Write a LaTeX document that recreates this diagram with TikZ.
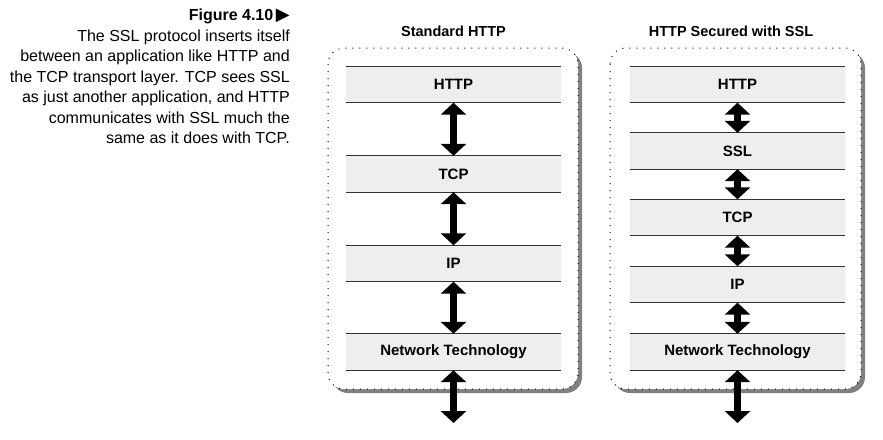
\documentclass[tikz,border=0pt]{standalone}
\usepackage{fontspec}
\setmainfont{Liberation Sans}
\newfontfamily\symfont{DejaVu Sans}
\usetikzlibrary{arrows.meta}
\definecolor{layerfill}{HTML}{EEEEEE}
\definecolor{shadowgray}{HTML}{808080}
\begin{document}
\begin{tikzpicture}[x=1pt,y=-1pt,
  layer/.style={minimum width=215pt, minimum height=36pt, inner sep=0pt, fill=layerfill,
    font=\bfseries\fontsize{15}{16}\selectfont},
  rule/.style={line width=1.2pt, black!80},
  link/.style={line width=7pt, {Triangle[width=25pt,length=12pt]}-{Triangle[width=25pt,length=12pt]}},
  frame/.style={draw=black, fill=white, rounded corners=16pt, line width=1pt, dash pattern=on 1pt off 6pt},
  shadow/.style={fill=shadowgray, rounded corners=16pt},
  title/.style={font=\bfseries\fontsize{14.5}{16}\selectfont},
  caption/.style={align=right, anchor=north east, inner sep=0pt, font=\fontsize{16}{20.5}\selectfont}]
\useasboundingbox (0,0) rectangle (883,439);

% caption
\node[caption] (cap) at (290,9) {{\bfseries Figure 4.10\,{\symfont\fontsize{18}{16}\selectfont ▶}}\\
The SSL protocol inserts itself\\
between an application like HTTP and\\
the TCP transport layer. TCP sees SSL\\
as just another application, and HTTP\\
communicates with SSL much the\\
same as it does with TCP.};

% frames
\fill[shadow] (332,52) rectangle (582,393);
\path[frame] (328,48) rectangle (578,389);
\fill[shadow] (614,52) rectangle (865,393);
\path[frame] (610,48) rectangle (861,389);

% titles
\node[title] (t1) at (453.5,31) {Standard HTTP};
\node[title] (t2) at (731,31) {HTTP Secured with SSL};

% left column
\node[layer] (a1) at (453.5,84.5) {HTTP};
\node[layer] (a2) at (453.5,174) {TCP};
\node[layer] (a3) at (453.5,263.5) {IP};
\node[layer] (a4) at (453.5,352) {Network Technology};
\coordinate (ae) at (453.5,423);

% right column
\node[layer] (b1) at (737.5,84.5) {HTTP};
\node[layer] (b2) at (737.5,151) {SSL};
\node[layer] (b3) at (737.5,217.5) {TCP};
\node[layer] (b4) at (737.5,284.5) {IP};
\node[layer] (b5) at (737.5,352) {Network Technology};
\coordinate (be) at (737.5,423);

\foreach \n in {a1,a2,a3,a4,b1,b2,b3,b4,b5}{
  \draw[rule] (\n.north west) -- (\n.north east);
  \draw[rule] (\n.south west) -- (\n.south east);
}

\draw[link] (a1.south) -- (a2.north);
\draw[link] (a2.south) -- (a3.north);
\draw[link] (a3.south) -- (a4.north);
\draw[link] (a4.south) -- (ae);

\draw[link] (b1.south) -- (b2.north);
\draw[link] (b2.south) -- (b3.north);
\draw[link] (b3.south) -- (b4.north);
\draw[link] (b4.south) -- (b5.north);
\draw[link] (b5.south) -- (be);
\end{tikzpicture}
\end{document}
